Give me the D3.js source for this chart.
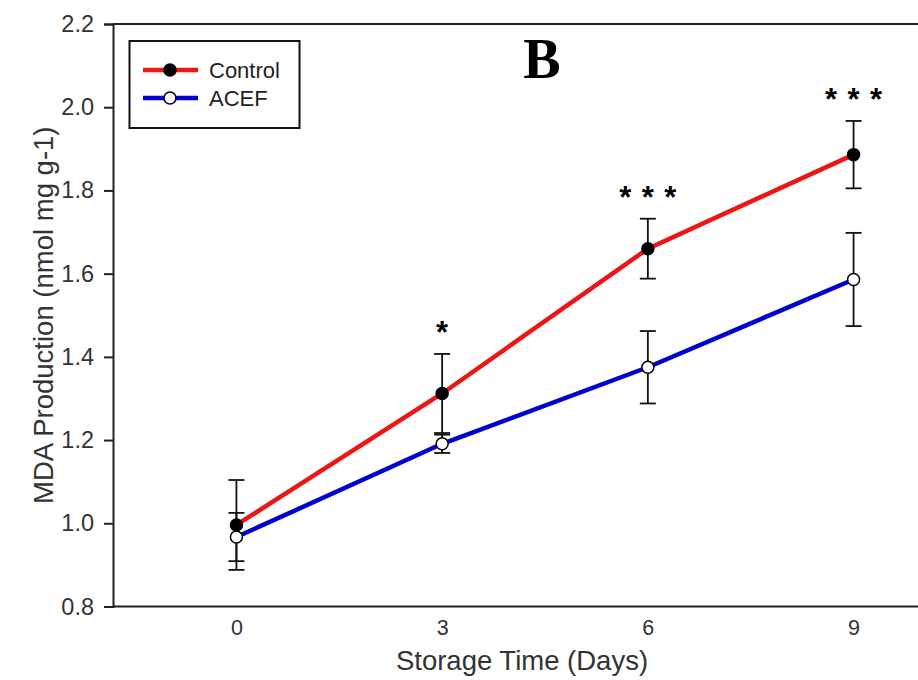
<!DOCTYPE html>
<html>
<head>
<meta charset="utf-8">
<script src="https://cdn.jsdelivr.net/npm/d3@7"></script>
<style>
html,body{margin:0;padding:0;background:#fff;overflow:hidden;}
svg{display:block;}
</style>
</head>
<body>
<svg id="chart" width="918" height="680"></svg>
<script>
const days = [0, 3, 6, 9];
const xTicks = [0, 3, 6, 9];
const yTicks = [0.8, 1.0, 1.2, 1.4, 1.6, 1.8, 2.0, 2.2];
const controlMean = [0.996, 1.312, 1.660, 1.886];
const controlErr = [0.108, 0.095, 0.072, 0.081];
const acefMean = [0.967, 1.191, 1.375, 1.586];
const acefErr = [0.058, 0.022, 0.087, 0.112];
const signif = ["", "*", "***", "***"];
const seriesNames = ["Control", "ACEF"];

(function () {
const svg = d3.select("#chart");
const mLeft = 113, mTop = 24, mBottom = 606.5, mRight = 977;
const x = d3.scaleLinear().domain([-1.8, 10.8]).range([mLeft, mRight]);
const y = d3.scaleLinear().domain([0.8, 2.2]).range([mBottom, mTop]);
const axisColor = "#222";
const sans = "Arial, 'Liberation Sans', sans-serif";

// frame
const frame = svg.append("g").attr("stroke", axisColor).attr("stroke-width", 2).attr("fill", "none");
frame.append("line").attr("x1", mLeft).attr("x2", 930).attr("y1", mTop).attr("y2", mTop);
frame.append("line").attr("x1", mLeft).attr("x2", 930).attr("y1", mBottom).attr("y2", mBottom);

// y axis
const yAxis = svg.append("g").attr("transform", `translate(${mLeft},0)`)
  .call(d3.axisLeft(y).tickValues(yTicks).tickFormat(d3.format(".1f")).tickSize(9).tickPadding(10));
yAxis.select(".domain").attr("stroke", axisColor).attr("stroke-width", 2);
yAxis.selectAll(".tick line").attr("stroke", axisColor).attr("stroke-width", 2);
yAxis.selectAll(".tick text").attr("font-family", sans)
  .attr("font-size", 23.5).attr("fill", "#333");

// x axis (labels only)
const xAxis = svg.append("g").attr("transform", `translate(0,${mBottom})`)
  .call(d3.axisBottom(x).tickValues(xTicks).tickFormat(d3.format("d")).tickSize(0).tickPadding(13));
xAxis.select(".domain").remove();
xAxis.selectAll(".tick text").attr("font-family", sans)
  .attr("font-size", 21.5).attr("fill", "#333");

// axis titles
svg.append("text").attr("x", 522).attr("y", 670).attr("text-anchor", "middle")
  .attr("font-family", sans).attr("font-size", 27.5).attr("fill", "#333")
  .text("Storage Time (Days)");
svg.append("text").attr("transform", `translate(52.5,${(mTop + mBottom) / 2}) rotate(-90)`)
  .attr("text-anchor", "middle")
  .attr("font-family", sans).attr("font-size", 27.5).attr("fill", "#333")
  .text("MDA Production (nmol mg g-1)");

// panel letter
svg.append("text").attr("x", 542).attr("y", 78).attr("text-anchor", "middle")
  .attr("font-family", "'Liberation Serif', 'Times New Roman', serif").attr("font-weight", "bold")
  .attr("font-size", 56).attr("fill", "#000").text("B");

const series = [
  {name: seriesNames[0], mean: controlMean, err: controlErr, color: "#ee1515", fill: "#000"},
  {name: seriesNames[1], mean: acefMean, err: acefErr, color: "#0000d0", fill: "#fff"}
];

// error bars
const capW = 8;
series.forEach(s => {
  const g = svg.append("g").attr("stroke", "#111").attr("stroke-width", 1.8);
  days.forEach((d, i) => {
    const cx = x(d), y1 = y(s.mean[i] + s.err[i]), y2 = y(s.mean[i] - s.err[i]);
    g.append("line").attr("x1", cx).attr("x2", cx).attr("y1", y1).attr("y2", y2);
    g.append("line").attr("x1", cx - capW).attr("x2", cx + capW).attr("y1", y1).attr("y2", y1);
    g.append("line").attr("x1", cx - capW).attr("x2", cx + capW).attr("y1", y2).attr("y2", y2);
  });
});

// lines
const line = d3.line().x((d, i) => x(days[i])).y(d => y(d));
series.slice().reverse().forEach(s => {
  svg.append("path").datum(s.mean).attr("d", line).attr("fill", "none")
    .attr("stroke", s.color).attr("stroke-width", 4.5);
});
// markers
series.slice().reverse().forEach(s => {
  svg.append("g").selectAll("circle").data(s.mean).join("circle")
    .attr("cx", (d, i) => x(days[i])).attr("cy", d => y(d)).attr("r", 6)
    .attr("fill", s.fill).attr("stroke", "#000").attr("stroke-width", 1.5);
});

// significance stars
days.forEach((d, i) => {
  const n = signif[i].length;
  const base = y(controlMean[i] + controlErr[i]) - 28 + 17;
  for (let k = 0; k < n; k++) {
    svg.append("text").attr("x", x(d) + (k - (n - 1) / 2) * 22.5).attr("y", base)
      .attr("text-anchor", "middle").attr("font-family", sans)
      .attr("font-weight", "bold").attr("font-size", 31).attr("fill", "#000").text("*");
  }
});

// legend
const lg = svg.append("g");
lg.append("rect").attr("x", 129.5).attr("y", 41).attr("width", 170).attr("height", 87)
  .attr("fill", "#fff").attr("stroke", "#111").attr("stroke-width", 2);
series.forEach((s, i) => {
  const ly = 70 + i * 28;
  lg.append("line").attr("x1", 143).attr("x2", 198).attr("y1", ly).attr("y2", ly)
    .attr("stroke", s.color).attr("stroke-width", 4.5);
  lg.append("circle").attr("cx", 170).attr("cy", ly).attr("r", 6)
    .attr("fill", s.fill).attr("stroke", "#000").attr("stroke-width", 1.5);
  lg.append("text").attr("x", 209).attr("y", ly + 8).attr("font-family", sans)
    .attr("font-size", 22).attr("fill", "#222").text(s.name);
});
})();
</script>
</body>
</html>
